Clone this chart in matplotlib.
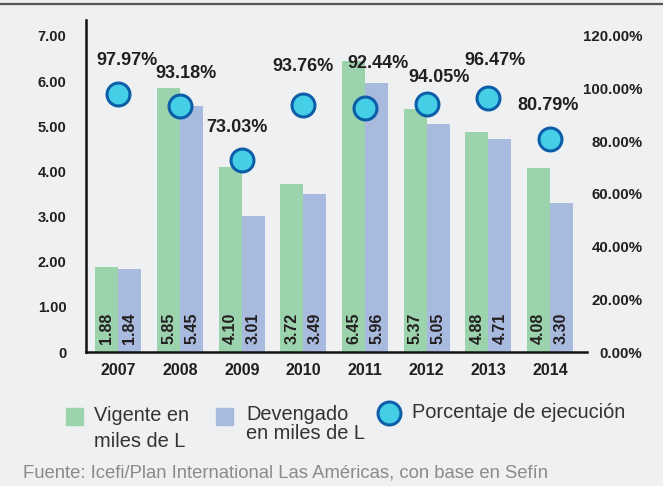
import matplotlib
matplotlib.use("Agg")
import matplotlib.pyplot as plt
from matplotlib.patches import Rectangle
from matplotlib.lines import Line2D

years = ["2007", "2008", "2009", "2010", "2011", "2012", "2013", "2014"]
vigente = [1.88, 5.85, 4.10, 3.72, 6.45, 5.37, 4.88, 4.08]
devengado = [1.84, 5.45, 3.01, 3.49, 5.96, 5.05, 4.71, 3.30]
ejecucion = [97.97, 93.18, 73.03, 93.76, 92.44, 94.05, 96.47, 80.79]

left_ticks = [0, 1, 2, 3, 4, 5, 6, 7]
left_labels = ["0", "1.00", "2.00", "3.00", "4.00", "5.00", "6.00", "7.00"]
right_ticks = [0, 20, 40, 60, 80, 100, 120]
right_labels = ["0.00%", "20.00%", "40.00%", "60.00%", "80.00%", "100.00%", "120.00%"]

# label nudges (pixels) so the percentages don't collide
pct_dx = [9, 6, -5, 0, 13, 12, 7, -2]
pct_dy = [33, 33, 32, 38, 45, 27, 37, 34]

BG = "#eff0f2"
GREEN = "#9bd3ad"
BLUE = "#a9badf"
CYAN = "#45cfe6"
NAVY = "#0d5ea8"
TXT = "#231f20"

plt.rcParams["font.family"] = ["Liberation Sans", "DejaVu Sans"]

fig = plt.figure(figsize=(6.63, 4.86), dpi=100, facecolor=BG)
ax = fig.add_axes([0.1297, 0.2757, 0.7557, 0.6831])
ax.set_facecolor(BG)
ax2 = ax.twinx()

x = list(range(len(years)))
w = 0.373
xg = [i - w / 2 for i in x]
xb = [i + w / 2 for i in x]
ax.bar(xg, vigente, width=w, color=GREEN, zorder=2)
ax.bar(xb, devengado, width=w, color=BLUE, zorder=2)

for xs, vals in ((xg, vigente), (xb, devengado)):
    for xi, v in zip(xs, vals):
        ax.annotate(f"{v:.2f}", (xi, 0), xytext=(0, 8), textcoords="offset pixels",
                    rotation=90, ha="center", va="bottom", fontsize=11.5,
                    fontweight="bold", color=TXT, zorder=3)

ax.set_xlim(-0.527, 7.6)
ax.set_ylim(0, 7.35)
ax2.set_ylim(0, 7.35 / 7 * 120)

ax2.plot(x, ejecucion, linestyle="none", marker="o", markersize=16.5,
         markerfacecolor=CYAN, markeredgecolor=NAVY, markeredgewidth=2.2, zorder=4)
for xi, v, dx, dy in zip(x, ejecucion, pct_dx, pct_dy):
    ax2.annotate(f"{v:.2f}%", (xi, v), xytext=(dx, dy), textcoords="offset pixels",
                 ha="center", va="center", fontsize=13, fontweight="bold", color=TXT)

ax.set_xticks(x)
ax.set_xticklabels(years, fontsize=11.5, fontweight="bold", color=TXT)
ax.set_yticks(left_ticks)
ax.set_yticklabels(left_labels, fontsize=10.5, fontweight="bold", color=TXT)
ax.tick_params(axis="both", length=0)
ax.tick_params(axis="y", pad=14)
ax.tick_params(axis="x", pad=8)

ax2.set_yticks(right_ticks)
ax2.set_yticklabels(right_labels, fontsize=10.8, fontweight="bold", color=TXT, ha="right")
ax2.tick_params(axis="y", length=0, pad=40)

for a in (ax, ax2):
    for s in ("top", "right"):
        a.spines[s].set_visible(False)
ax2.spines["left"].set_visible(False)
ax2.spines["bottom"].set_visible(False)
for s in ("left", "bottom"):
    ax.spines[s].set_linewidth(1.8)
    ax.spines[s].set_color("#111111")

# top rule
fig.add_artist(Line2D([0, 1], [1 - 4 / 486, 1 - 4 / 486], color="#555555", linewidth=1.6))

# legend, drawn by hand so the swatches line up with the first text line
def fx(px):
    return px / 663


def fy(py):
    return 1 - py / 486


LEG = 14.4
fig.add_artist(Rectangle((fx(66), fy(425)), fx(17), 17 / 486, color=GREEN))
fig.text(fx(94), fy(415), "Vigente en", fontsize=LEG, color="#333333", va="center")
fig.text(fx(94), fy(441), "miles de L", fontsize=LEG, color="#333333", va="center")
fig.add_artist(Rectangle((fx(216), fy(425)), fx(17), 17 / 486, color=BLUE))
fig.text(fx(246), fy(414), "Devengado", fontsize=LEG, color="#333333", va="center")
fig.text(fx(246), fy(433), "en miles de L", fontsize=LEG, color="#333333", va="center")
fig.add_artist(Line2D([fx(389)], [fy(413)], marker="o", markersize=16.5,
                      markerfacecolor=CYAN, markeredgecolor=NAVY, markeredgewidth=2.2))
fig.text(fx(412), fy(413), "Porcentaje de ejecución", fontsize=LEG, color="#333333", va="center")

fig.text(fx(23), fy(473), "Fuente: Icefi/Plan International Las Américas, con base en Sefín",
         fontsize=13.3, color="#8a8a8a", va="center")

fig.savefig("out.png", dpi=100, facecolor=BG)
